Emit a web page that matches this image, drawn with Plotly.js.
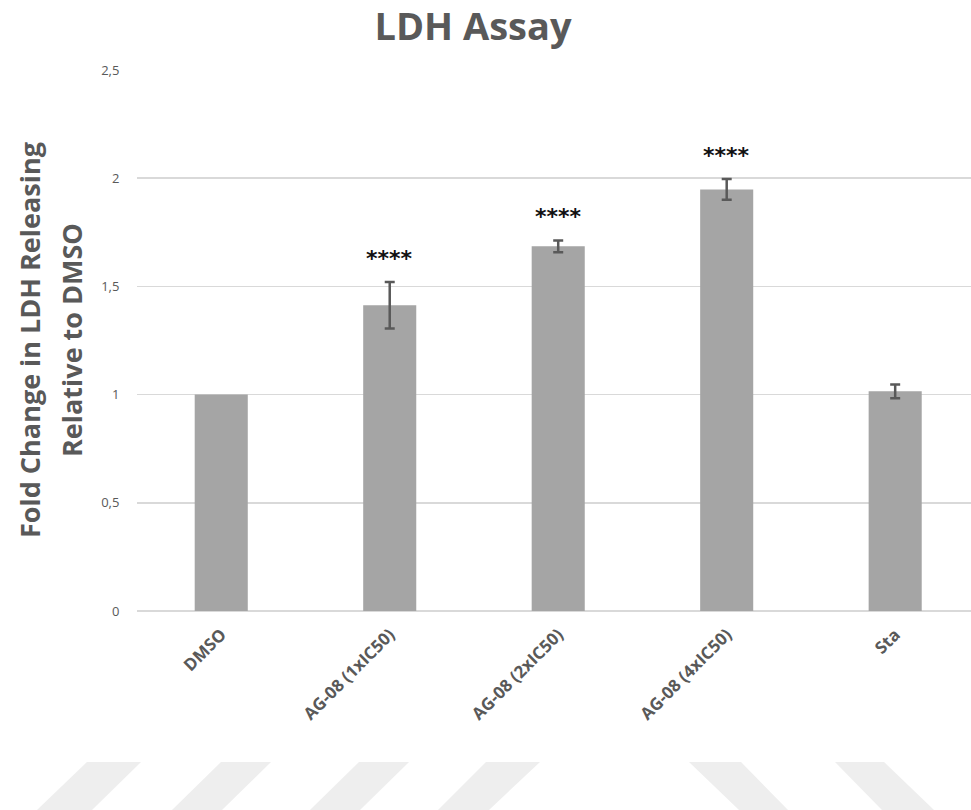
<!DOCTYPE html>
<html>
<head>
<meta charset="utf-8">
<script src="https://cdn.plot.ly/plotly-3.0.1.min.js"></script>
<style>html,body{margin:0;padding:0;background:#fff;}#chart{width:971px;height:810px;}</style>
</head>
<body>
<div id="chart"></div>
<script>
// ---- data ----
const categories = ["DMSO", "AG-08 (1xIC50)", "AG-08 (2xIC50)", "AG-08 (4xIC50)", "Sta"];
const foldChange = [1.0, 1.413, 1.685, 1.948, 1.015];
const errorSD    = [NaN, 0.107, 0.027, 0.048, 0.032];  // DMSO: no error bar drawn
const significance = ["", "****", "****", "****", ""];
const yTickVals = [0, 0.5, 1, 1.5, 2, 2.5];
const yTitleLines = ["Fold Change in LDH Releasing", "Relative to DMSO"];

const grey = "#595959";
const W = 971, H = 810, L = 137, R = 0, T = 70, B = 199;

const trace = {
  type: "bar",
  x: categories,
  y: foldChange,
  marker: {color: "#a5a5a5", line: {width: 0}},
  error_y: {type: "data", array: errorSD, visible: true, color: grey, thickness: 2.5, width: 5},
  hoverinfo: "x+y"
};

const pw = W - L - R, ph = H - T - B;
const px = v => (v - L) / pw, py = v => (H - B - v) / ph;

const annotations = [];
categories.forEach((c, i) => {
  if (significance[i]) {
    annotations.push({
      x: c, y: foldChange[i] + (errorSD[i] || 0), xref: "x", yref: "y",
      text: "<b>" + significance[i] + "</b>", showarrow: false, yanchor: "middle", yshift: 24,
      font: {family: "DejaVu Sans", size: 22, color: "#111"}
    });
  }
});
// y axis title, two lines
[29, 71].forEach((xPix, i) => {
  annotations.push({
    xref: "paper", yref: "paper", x: px(xPix), y: py(340),
    xanchor: "center", yanchor: "middle", textangle: -90, showarrow: false,
    text: "<b>" + yTitleLines[i] + "</b>",
    font: {family: "Open Sans", size: 27, color: grey}
  });
});

// decorative watermark stripes
const stripes = [
  [87,141,92,37],[221,271,222,172],[359,409,360,310],[486,540,489,438],
  [689,741,788,739],[835,884,934,882]
];
const shapes = stripes.map(s => ({
  type: "path", xref: "paper", yref: "paper", layer: "below",
  path: `M ${px(s[0])} ${py(762)} L ${px(s[1])} ${py(762)} L ${px(s[2])} ${py(810)} L ${px(s[3])} ${py(810)} Z`,
  fillcolor: "#eeeeee", line: {width: 0}
}));

const layout = {
  width: W, height: H,
  margin: {l: L, r: R, t: T, b: B},
  paper_bgcolor: "#fff", plot_bgcolor: "#fff",
  separators: ", ",
  showlegend: false,
  bargap: 0.685,
  title: {
    text: "<b>LDH Assay</b>",
    font: {family: "Open Sans", size: 38, color: grey},
    x: 473 / W, xanchor: "center", xref: "container",
    y: 1 - 27 / H, yanchor: "middle", yref: "container"
  },
  xaxis: {
    type: "category",
    range: [-0.5, 4.45],
    tickangle: -45,
    tickfont: {family: "Open Sans", size: 17, color: grey, weight: "bold"},
    showgrid: false, zeroline: false, showline: false,
    ticks: "outside", ticklen: 6, tickcolor: "rgba(0,0,0,0)",
    automargin: false
  },
  yaxis: {
    range: [0, 2.5],
    tickvals: yTickVals,
    tickfont: {family: "Open Sans", size: 13, color: grey},
    gridcolor: "#d9d9d9", gridwidth: 1.5,
    zeroline: true, zerolinecolor: "#d9d9d9", zerolinewidth: 1.5,
    showline: false,
    ticks: "outside", ticklen: 14, tickcolor: "rgba(0,0,0,0)",
    automargin: false
  },
  annotations: annotations,
  shapes: shapes
};

Plotly.newPlot("chart", [trace], layout, {displayModeBar: false, staticPlot: true});
</script>
</body>
</html>
